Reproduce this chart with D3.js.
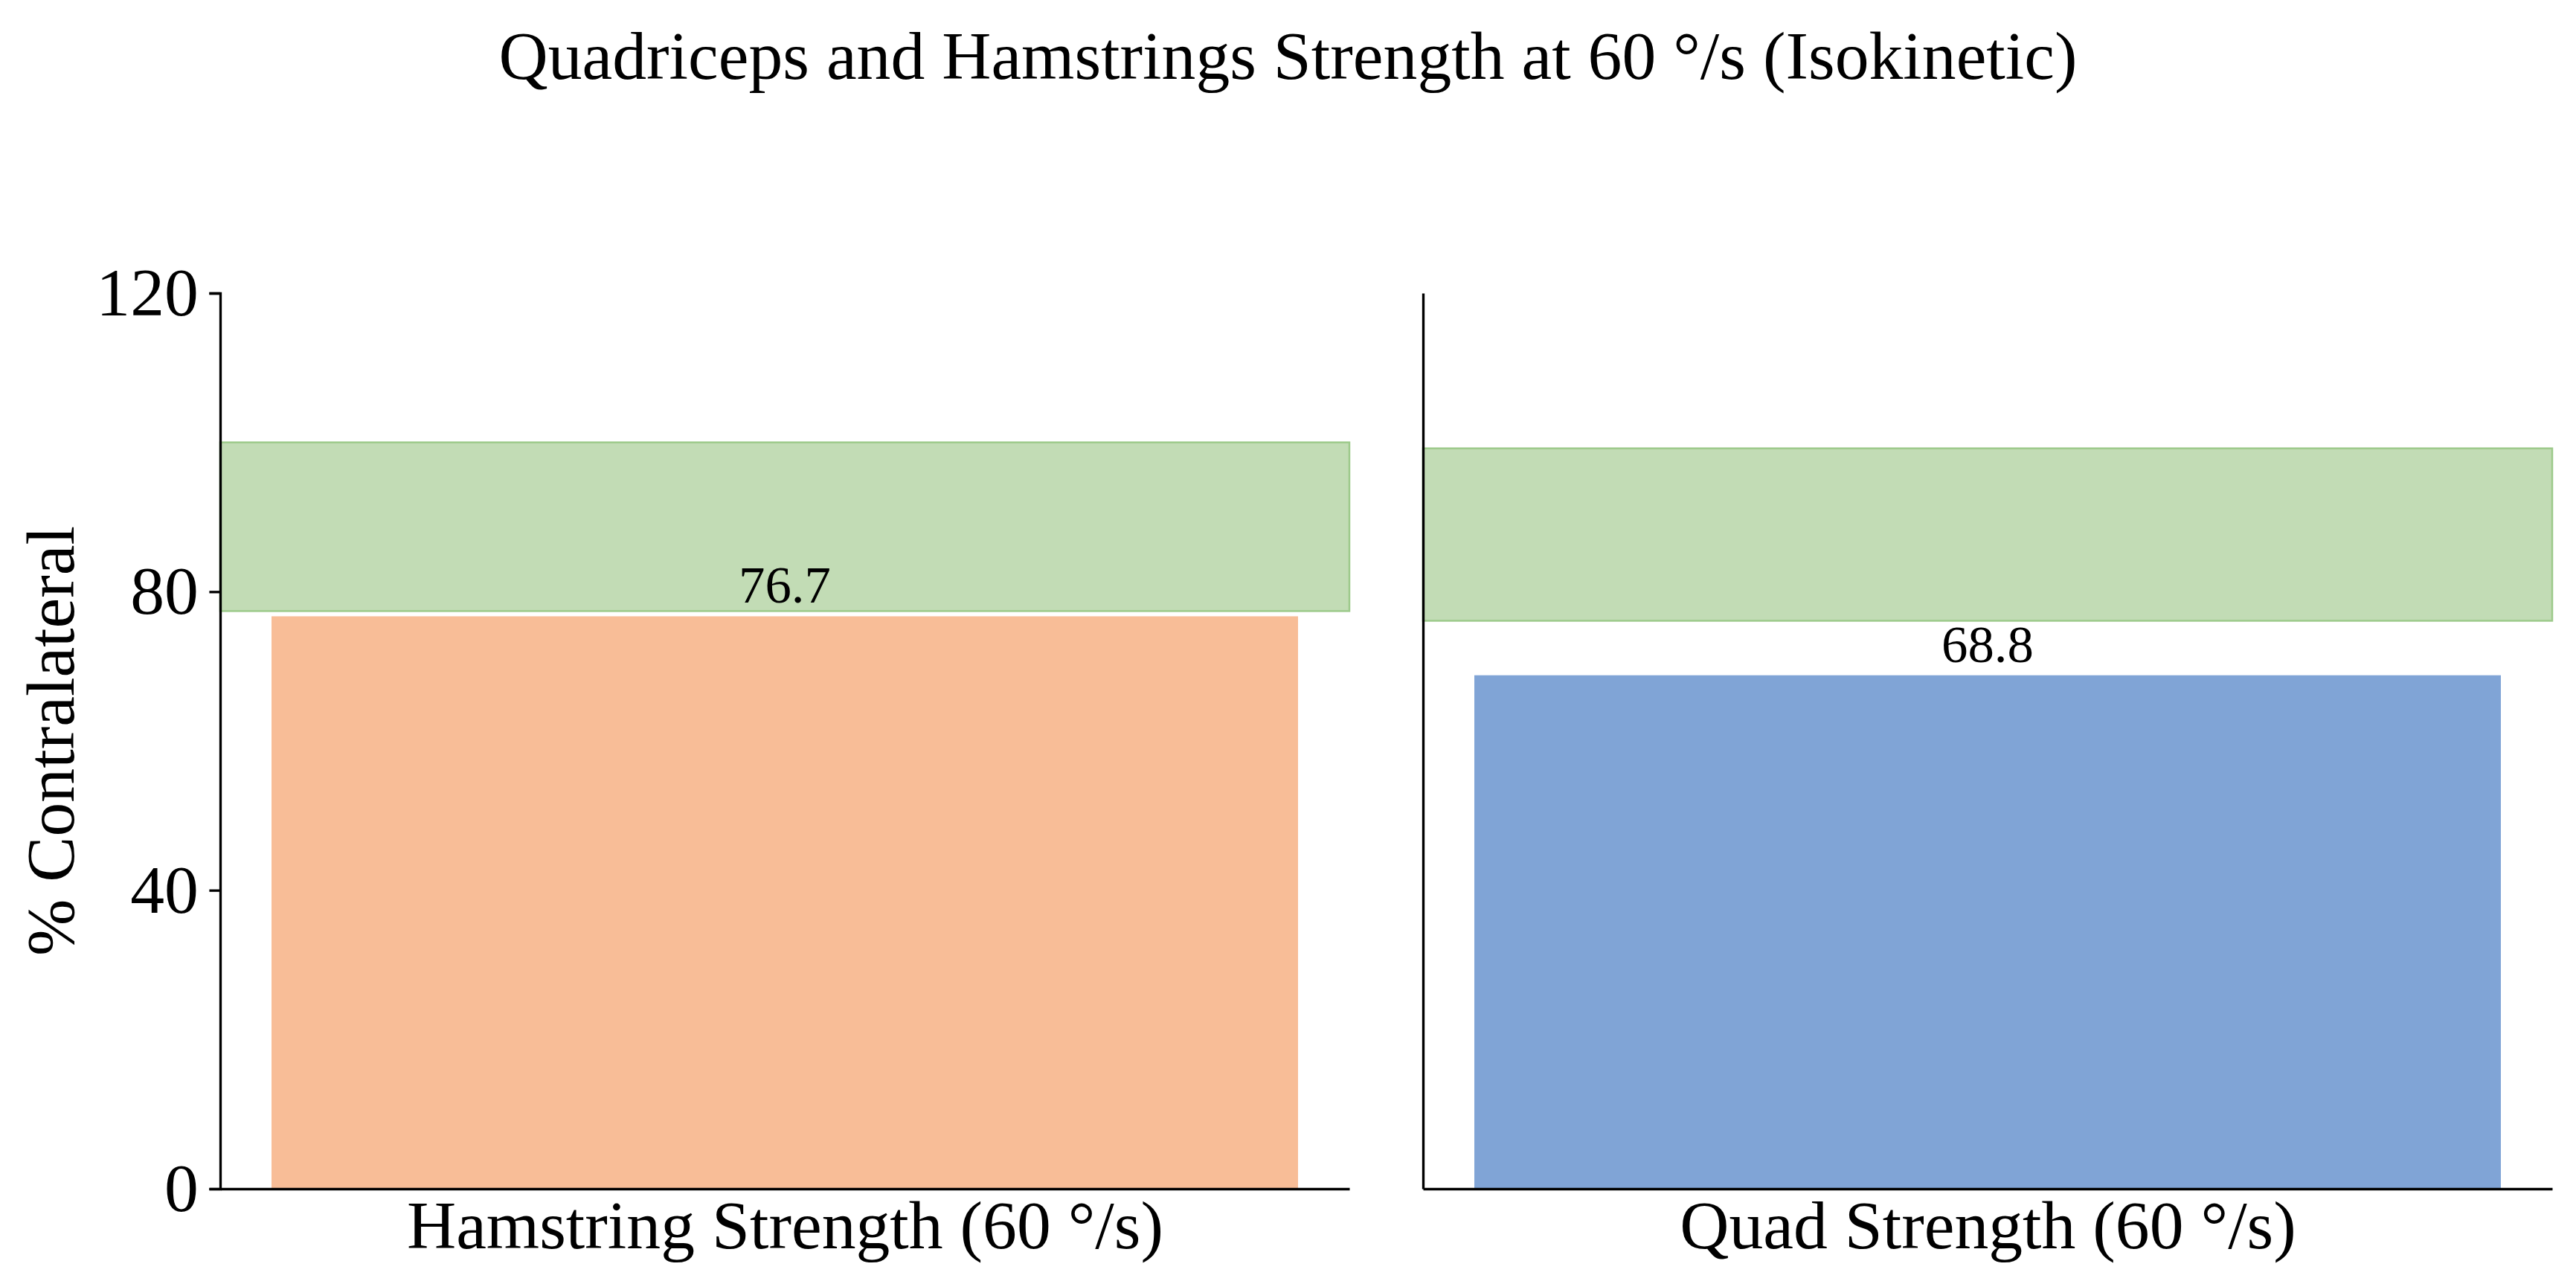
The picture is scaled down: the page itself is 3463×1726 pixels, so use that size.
<!DOCTYPE html>
<html>
<head>
<meta charset="utf-8">
<script src="https://cdn.jsdelivr.net/npm/d3@7"></script>
<style>
    body { margin: 0; background: #fff; }
    text { font-family: "Liberation Serif", "Times New Roman", serif; fill: #000; }
</style>
</head>
<body>
<div id="wrapper"></div>
<script>
// data
const categories = ["Hamstring Strength (60 °/s)", "Quad Strength (60 °/s)"];
const values = [76.7, 68.8];
const normLow = [77.4, 76.1];
const normHigh = [100, 99.2];
const barColors = ["#f8bd97", "#80a4d6"];
const yTicks = [0, 40, 80, 120];
const title = "Quadriceps and Hamstrings Strength at 60 °/s (Isokinetic)";
const yLabel = "% Contralateral";

function build() {
    var dimension = {
        width: 3463,
        height: 1726,
        top: 394,
        bottom: 1598,
        panelLeft: [296, 1913],
        panelWidth: 1518
    }
    const fontBig = 91.7;
    const fontValue = 70.8;
    const lw = 3.33;
    const barWidth = 0.8;

    const wrapper = d3.select("#wrapper")
        .append("svg")
        .attr("width", dimension.width)
        .attr("height", dimension.height)
        .style("display", "block");

    wrapper.append("rect")
        .attr("width", dimension.width)
        .attr("height", dimension.height)
        .attr("fill", "#fff");

    const y = d3.scaleLinear()
        .domain([0, 120])
        .range([dimension.bottom, dimension.top]);

    categories.forEach((cat, i) => {
        const x0 = dimension.panelLeft[i];
        // one bar at position 0, width 0.8, with 5% margins like matplotlib
        const x = d3.scaleLinear()
            .domain([-0.44, 0.44])
            .range([x0, x0 + dimension.panelWidth]);

        const panel = wrapper.append("g");

        // normal range band (full axes width)
        panel.append("rect")
            .attr("x", x0)
            .attr("width", dimension.panelWidth)
            .attr("y", y(normHigh[i]))
            .attr("height", y(normLow[i]) - y(normHigh[i]))
            .attr("fill", "#c2dcb5")
            .attr("stroke", "#9dca8b")
            .attr("stroke-width", 2.5);

        // bar
        panel.append("rect")
            .attr("x", x(-barWidth / 2))
            .attr("width", x(barWidth / 2) - x(-barWidth / 2))
            .attr("y", y(values[i]))
            .attr("height", y(0) - y(values[i]))
            .attr("fill", barColors[i]);

        // value label
        panel.append("text")
            .attr("x", x(0))
            .attr("y", y(values[i]) - 18)
            .attr("text-anchor", "middle")
            .style("font-size", fontValue + "px")
            .text(values[i].toFixed(1));

        // y axis
        const yAxis = d3.axisLeft(y)
            .tickValues(yTicks)
            .tickSizeOuter(0);
        if (i === 0) {
            yAxis.tickSize(14.6).tickPadding(14.6);
        } else {
            yAxis.tickSize(0).tickFormat("");
        }
        const gy = panel.append("g")
            .attr("transform", `translate(${x0},0)`)
            .call(yAxis);
        gy.selectAll("text")
            .style("font-size", fontBig + "px")
            .style("font-family", '"Liberation Serif", "Times New Roman", serif');

        // x axis, category name as the single tick label
        const gx = panel.append("g")
            .attr("transform", `translate(0,${dimension.bottom})`)
            .call(d3.axisBottom(x)
                .tickValues([0])
                .tickFormat(() => cat)
                .tickSize(0)
                .tickSizeOuter(0)
                .tickPadding(14.6));
        gx.selectAll("text")
            .style("font-size", fontBig + "px")
            .style("font-family", '"Liberation Serif", "Times New Roman", serif');

        wrapper.selectAll(".domain, .tick line")
            .attr("stroke", "#000")
            .attr("stroke-width", lw);
    });

    // y label
    wrapper.append("text")
        .attr("transform", `translate(99,${(dimension.top + dimension.bottom) / 2}) rotate(-90)`)
        .attr("text-anchor", "middle")
        .style("font-size", fontBig + "px")
        .text(yLabel);

    // title
    wrapper.append("text")
        .attr("x", dimension.width / 2)
        .attr("y", 106)
        .attr("text-anchor", "middle")
        .style("font-size", fontBig + "px")
        .text(title);
}

build();
</script>
</body>
</html>
